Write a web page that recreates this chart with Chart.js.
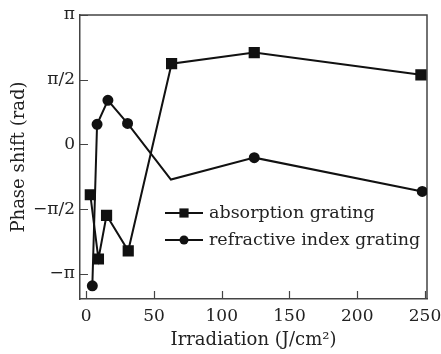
<!DOCTYPE html>
<html>
<head>
<meta charset="utf-8">
<script src="https://cdn.jsdelivr.net/npm/chart.js@4/dist/chart.umd.min.js"></script>
<style>
  html, body { margin: 0; padding: 0; background: #fff; }
  #wrap { width: 441px; height: 354px; }
</style>
</head>
<body>
<div id="wrap"><canvas id="c" width="441" height="354"></canvas></div>
<script>
/* phase shift vs irradiation */

const PI = Math.PI;

const seriesNames = ['absorption grating', 'refractive index grating'];

// irradiation (J/cm2) and phase shift (rad)
const absorptionX = [3, 9, 15, 31, 63, 124, 247];
const absorptionY = [-1.22, -2.78, -1.72, -2.58, 1.96, 2.23, 1.69];

const refractiveX = [4.5, 8, 16, 30.5, 62.5, 124, 248];
const refractiveY = [-3.43, 0.49, 1.07, 0.51, -0.85, -0.32, -1.14];

const xTicks = [0, 50, 100, 150, 200, 250];
const yTicks = [-PI, -PI / 2, 0, PI / 2, PI];
const yTickLabels = ['\u2212\u03c0', '\u2212\u03c0/2', '0', '\u03c0/2', '\u03c0'];

const FONT = '"DejaVu Serif", "Liberation Serif", serif';
const INK = '#111';
const AXIS = '#444';

function toPoints( xs, ys ) {
    return xs.map( ( x, i ) => ({ x: x, y: ys[i] }) );
}

// top and right sides of the box
const frame = {
    id: 'frame',
    beforeDatasetsDraw( chart ) {
        const a = chart.chartArea, g = chart.ctx;
        g.save();
        g.strokeStyle = AXIS;
        g.lineWidth = 1.5;
        g.beginPath();
        g.moveTo( a.left, a.top );
        g.lineTo( a.right, a.top );
        g.lineTo( a.right, a.bottom );
        g.stroke();
        g.restore();
    }
};

// ticks drawn inward, like the printed figure
const inwardTicks = {
    id: 'inwardTicks',
    beforeDatasetsDraw( chart ) {
        const g = chart.ctx;
        const area = chart.chartArea;
        const xs = chart.scales.x, ys = chart.scales.y;
        g.save();
        g.strokeStyle = AXIS;
        g.lineWidth = 1.2;
        g.beginPath();
        xs.ticks.forEach( t => {
            const px = Math.round( xs.getPixelForValue( t.value ) ) + 0.5;
            g.moveTo( px, area.bottom );
            g.lineTo( px, area.bottom - 8 );
        });
        ys.ticks.forEach( t => {
            const py = Math.round( ys.getPixelForValue( t.value ) ) + 0.5;
            g.moveTo( area.left, py );
            g.lineTo( area.left + 8, py );
        });
        g.stroke();
        g.restore();
    }
};

// legend inside the plot: line - marker - line, then text
const innerLegend = {
    id: 'innerLegend',
    afterDraw( chart ) {
        const g = chart.ctx;
        const x0 = 165, x1 = 203, rowY = [213, 240];
        g.save();
        chart.data.datasets.forEach( ( ds, i ) => {
            const y = rowY[i];
            g.strokeStyle = INK;
            g.lineWidth = 2;
            g.beginPath();
            g.moveTo( x0, y );
            g.lineTo( x1, y );
            g.stroke();
            g.fillStyle = INK;
            Chart.helpers.drawPoint( g, {
                pointStyle: ds.pointStyle,
                radius: i === 0 ? 6.5 : 4.5,
                rotation: 0
            }, ( x0 + x1 ) / 2, y );
            g.fillStyle = '#222';
            g.font = '17.5px ' + FONT;
            g.textBaseline = 'middle';
            g.textAlign = 'left';
            g.fillText( ds.label, 209, y );
        });
        g.restore();
    }
};

const ctx = document.getElementById('c').getContext('2d');

const chart = new Chart( ctx, {
    type: 'line',
    data: {
        datasets: [{
            label: seriesNames[0],
            data: toPoints( absorptionX, absorptionY ),
            borderColor: INK,
            backgroundColor: INK,
            borderWidth: 2,
            pointStyle: 'rect',
            pointRadius: 6.5,
            fill: false
        }, {
            label: seriesNames[1],
            data: toPoints( refractiveX, refractiveY ),
            borderColor: INK,
            backgroundColor: INK,
            borderWidth: 2,
            pointStyle: 'circle',
            // the vertex near 62 J/cm2 has no marker in the figure
            pointRadius: c => c.dataIndex === 4 ? 0 : 4.5,
            fill: false
        }]
    },
    options: {
        responsive: false,
        animation: false,
        layout: {
            padding: { top: 15, right: 14, left: 0, bottom: 0 }
        },
        plugins: {
            legend: { display: false },
            tooltip: { enabled: false }
        },
        elements: {
            line: { tension: 0 } // straight segments
        },
        scales: {
            x: {
                type: 'linear',
                min: -4.6,
                max: 251.5,
                afterBuildTicks: s => { s.ticks = xTicks.map( v => ({ value: v }) ); },
                afterFit: s => {
                    s.height = 55;
                    s.paddingLeft = 0;
                    s.paddingRight = 0;
                },
                grid: { display: false, drawTicks: false },
                border: { display: true, color: AXIS, width: 1.5 },
                ticks: {
                    color: '#222',
                    font: { family: FONT, size: 17 },
                    padding: 7,
                    maxRotation: 0
                },
                title: {
                    display: true,
                    text: 'Irradiation (J/cm\u00b2)',
                    color: '#222',
                    font: { family: FONT, size: 18 },
                    padding: { top: 0, bottom: 3 }
                }
            },
            y: {
                type: 'linear',
                min: -3.75,
                max: PI,
                afterBuildTicks: s => { s.ticks = yTicks.map( v => ({ value: v }) ); },
                afterFit: s => {
                    s.width = 80;
                    s.paddingTop = 0;
                    s.paddingBottom = 0;
                },
                grid: { display: false, drawTicks: false },
                border: { display: true, color: AXIS, width: 1.5 },
                ticks: {
                    color: '#222',
                    font: { family: FONT, size: 17 },
                    padding: 5,
                    callback: ( v, i ) => yTickLabels[i]
                },
                title: {
                    display: true,
                    text: 'Phase shift (rad)',
                    color: '#222',
                    font: { family: FONT, size: 18 },
                    padding: { top: 9, bottom: 0 }
                }
            }
        }
    },
    plugins: [ frame, inwardTicks, innerLegend ]
});
</script>
</body>
</html>
